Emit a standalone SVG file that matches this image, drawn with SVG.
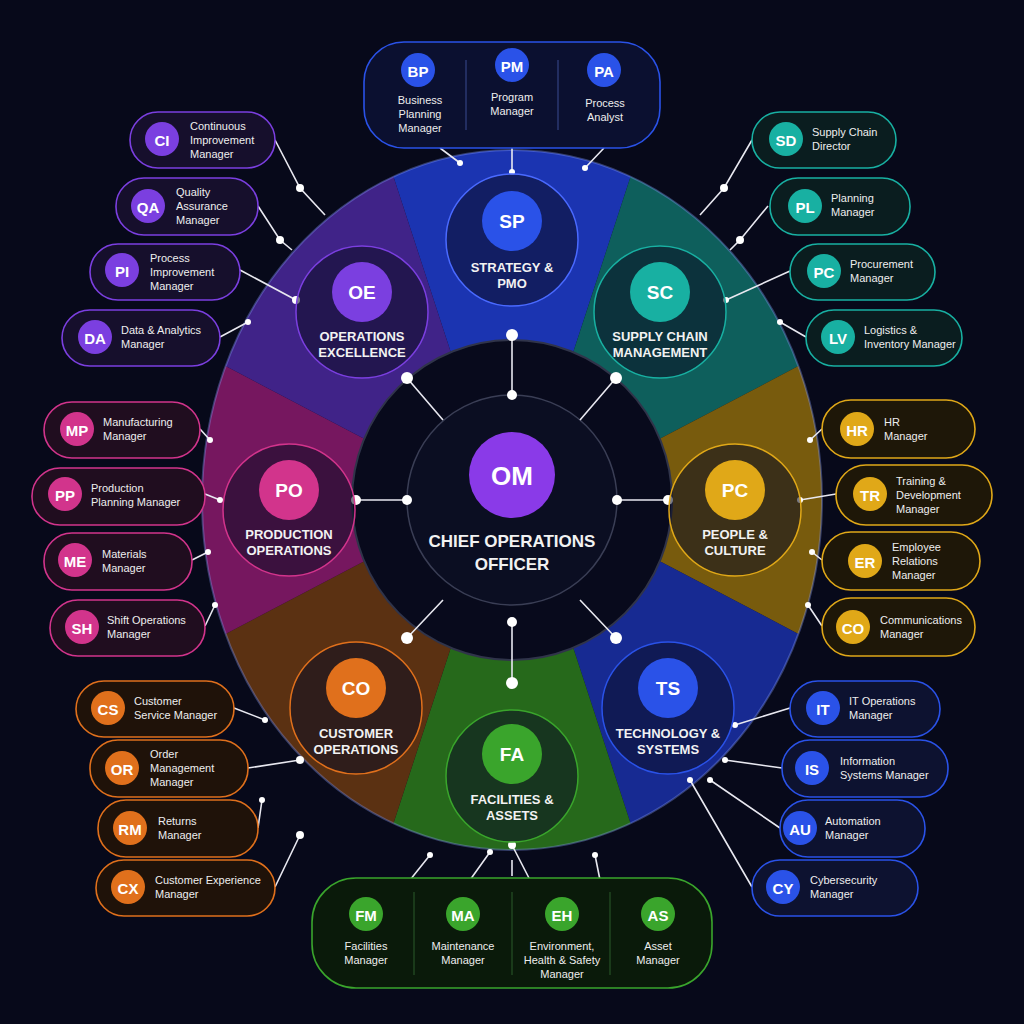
<svg xmlns="http://www.w3.org/2000/svg" width="1024" height="1024" viewBox="0 0 1024 1024">
<defs>
<style>
text{font-family:"Liberation Sans",Arial,sans-serif;fill:#fff}
.bd{font-weight:bold;font-size:19px;text-anchor:middle}
.bb{font-weight:bold;font-size:26px;text-anchor:middle}
.sl{font-size:13px;font-weight:bold;text-anchor:middle;fill:#f2f2f2}
.cl{font-size:11px;fill:#eee}
.cc{font-size:11px;fill:#eee;text-anchor:middle}
.ln{stroke:#e8e8f0;stroke-width:1.6;fill:none}
.dt{fill:#fff}
.card{stroke-width:1.6}
.p{fill:#7b3fe0}.m{fill:#d2348c}.o{fill:#e0701c}.t{fill:#18b0a2}.g{fill:#e0a818}.b{fill:#2a52e8}.gr{fill:#3aa52c}
.cp{fill:#160f2c;stroke:#7b3fe0}.cm{fill:#200d1f;stroke:#d2348c}.co{fill:#1f1209;stroke:#e0701c}.ct{fill:#0a1d1f;stroke:#18b0a2}.cg{fill:#1e1708;stroke:#e0a818}.cb{fill:#0d1230;stroke:#2a52e8}.cgr{fill:#0c1d0c;stroke:#3aa52c}
.sc{fill:#0b0d22;fill-opacity:0.55;stroke-width:1.5}
</style>
</defs>
<rect width="1024" height="1024" fill="#07091a"/>
<g id="ring">
<path d="M393.4,176.6 A310 350 0 0 1 630.6,176.6 L573.2,352.2 A160 160 0 0 0 450.8,352.2Z" fill="#1f3ccc" opacity="0.85"/>
<path d="M630.6,176.6 A310 350 0 0 1 798.4,366.1 L659.8,438.8 A160 160 0 0 0 573.2,352.2Z" fill="#0f6e68" opacity="0.85"/>
<path d="M798.4,366.1 A310 350 0 0 1 798.4,633.9 L659.8,561.2 A160 160 0 0 0 659.8,438.8Z" fill="#8c6a0c" opacity="0.85"/>
<path d="M798.4,633.9 A310 350 0 0 1 630.6,823.4 L573.2,647.8 A160 160 0 0 0 659.8,561.2Z" fill="#1a30a8" opacity="0.85"/>
<path d="M630.6,823.4 A310 350 0 0 1 393.4,823.4 L450.8,647.8 A160 160 0 0 0 573.2,647.8Z" fill="#2c7a1c" opacity="0.85"/>
<path d="M393.4,823.4 A310 350 0 0 1 225.6,633.9 L364.2,561.2 A160 160 0 0 0 450.8,647.8Z" fill="#6a3812" opacity="0.85"/>
<path d="M225.6,633.9 A310 350 0 0 1 225.6,366.1 L364.2,438.8 A160 160 0 0 0 364.2,561.2Z" fill="#8a1a6c" opacity="0.85"/>
<path d="M225.6,366.1 A310 350 0 0 1 393.4,176.6 L450.8,352.2 A160 160 0 0 0 364.2,438.8Z" fill="#4a289c" opacity="0.85"/>
<ellipse cx="512" cy="500" rx="310" ry="350" fill="none" stroke="#8aa0ff" stroke-opacity="0.35" stroke-width="2"/>
<circle cx="512" cy="500" r="160" fill="#080a1c" stroke="#30344a" stroke-width="2"/>
<circle cx="512" cy="500" r="105" fill="#0b0e22" stroke="#3a3e55" stroke-width="1.5"/>
</g>
<g id="connectors">
<path class="ln" d="M512,335V395M617,500H668M356,500H407M512,622V683M407,378L443,420M616,378L580,420M407,638L443,600M616,638L580,600"/>
<g class="dt"><circle cx="512" cy="335" r="6"/><circle cx="512" cy="395" r="5"/><circle cx="668" cy="500" r="5"/><circle cx="617" cy="500" r="5"/><circle cx="356" cy="500" r="5"/><circle cx="407" cy="500" r="5"/><circle cx="512" cy="683" r="6"/><circle cx="512" cy="622" r="5"/><circle cx="407" cy="378" r="6"/><circle cx="616" cy="378" r="6"/><circle cx="407" cy="638" r="6"/><circle cx="616" cy="638" r="6"/></g>
<path class="ln" d="M275,140L300,188L325,215M258,206L280,240L292,250M240,270L296,300M220,337L248,322M200,429L210,440M205,494L220,500M192,560L208,552M205,626L215,605M234,708L265,720M248,768L300,760M258,828L262,800M275,887L300,835M752,140L724,188L700,215M768,206L740,240L730,250M790,271L726,300M806,337L780,322M822,429L810,440M836,494L800,500M822,560L812,552M822,626L808,605M790,708L735,725M782,768L725,760M780,828L710,780M752,887L690,780M440,148L460,163M512,148V172M604,148L585,168M410,880L430,855M470,880L490,852M512,860V876M530,880L512,845M600,880L595,855"/>
<g class="dt"><circle cx="300" cy="188" r="4"/><circle cx="280" cy="240" r="4"/><circle cx="296" cy="300" r="4"/><circle cx="248" cy="322" r="3"/><circle cx="210" cy="440" r="3"/><circle cx="220" cy="500" r="3"/><circle cx="208" cy="552" r="3"/><circle cx="215" cy="605" r="3"/><circle cx="265" cy="720" r="3"/><circle cx="300" cy="760" r="4"/><circle cx="262" cy="800" r="3"/><circle cx="300" cy="835" r="4"/><circle cx="724" cy="188" r="4"/><circle cx="740" cy="240" r="4"/><circle cx="726" cy="300" r="3"/><circle cx="780" cy="322" r="3"/><circle cx="810" cy="440" r="3"/><circle cx="800" cy="500" r="3"/><circle cx="812" cy="552" r="3"/><circle cx="808" cy="605" r="3"/><circle cx="735" cy="725" r="3"/><circle cx="725" cy="760" r="3"/><circle cx="710" cy="780" r="3"/><circle cx="690" cy="780" r="3"/><circle cx="460" cy="163" r="3"/><circle cx="512" cy="172" r="3"/><circle cx="585" cy="168" r="3"/><circle cx="430" cy="855" r="3"/><circle cx="490" cy="852" r="3"/><circle cx="512" cy="845" r="4"/><circle cx="595" cy="855" r="3"/></g>
</g>
<g id="om"><circle cx="512" cy="475" r="43" fill="#8a3ae8"/><text class="bb" x="512" y="485">OM</text><text class="sl" x="512" y="547" style="font-size:17px">CHIEF OPERATIONS</text><text class="sl" x="512" y="570" style="font-size:17px">OFFICER</text></g>
<g id="sp"><circle class="sc" cx="512" cy="240" r="66" stroke="#4a6aff"/><circle class="b" cx="512" cy="221" r="30"/><text class="bd" x="512" y="228">SP</text><text class="sl" x="512" y="272">STRATEGY &amp;</text><text class="sl" x="512" y="288">PMO</text></g>
<g id="sc"><circle class="sc" cx="660" cy="312" r="66" stroke="#18b0a2"/><circle class="t" cx="660" cy="292" r="30"/><text class="bd" x="660" y="299">SC</text><text class="sl" x="660" y="341">SUPPLY CHAIN</text><text class="sl" x="660" y="357">MANAGEMENT</text></g>
<g id="pc"><circle class="sc" cx="735" cy="510" r="66" stroke="#e0a818"/><circle class="g" cx="735" cy="490" r="30"/><text class="bd" x="735" y="497">PC</text><text class="sl" x="735" y="539">PEOPLE &amp;</text><text class="sl" x="735" y="555">CULTURE</text></g>
<g id="ts"><circle class="sc" cx="668" cy="708" r="66" stroke="#2a52e8"/><circle class="b" cx="668" cy="688" r="30"/><text class="bd" x="668" y="695">TS</text><text class="sl" x="668" y="738">TECHNOLOGY &amp;</text><text class="sl" x="668" y="754">SYSTEMS</text></g>
<g id="fa"><circle class="sc" cx="512" cy="776" r="66" stroke="#3aa52c"/><circle class="gr" cx="512" cy="754" r="30"/><text class="bd" x="512" y="761">FA</text><text class="sl" x="512" y="804">FACILITIES &amp;</text><text class="sl" x="512" y="820">ASSETS</text></g>
<g id="co"><circle class="sc" cx="356" cy="708" r="66" stroke="#e0701c"/><circle class="o" cx="356" cy="688" r="30"/><text class="bd" x="356" y="695">CO</text><text class="sl" x="356" y="738">CUSTOMER</text><text class="sl" x="356" y="754">OPERATIONS</text></g>
<g id="po"><circle class="sc" cx="289" cy="510" r="66" stroke="#d2348c"/><circle class="m" cx="289" cy="490" r="30"/><text class="bd" x="289" y="497">PO</text><text class="sl" x="289" y="539">PRODUCTION</text><text class="sl" x="289" y="555">OPERATIONS</text></g>
<g id="oe"><circle class="sc" cx="362" cy="312" r="66" stroke="#7b3fe0"/><circle class="p" cx="362" cy="292" r="30"/><text class="bd" x="362" y="299">OE</text><text class="sl" x="362" y="341">OPERATIONS</text><text class="sl" x="362" y="357">EXCELLENCE</text></g>

<g id="top"><rect x="364" y="42" width="296" height="106" rx="40" fill="#0b1030" stroke="#2a52e8" stroke-width="1.6"/>
<path d="M466,60V130M558,60V130" stroke="#3a4a90"/>
<circle class="b" cx="418" cy="70" r="17"/><text class="bd" x="418" y="77" style="font-size:15px">BP</text><text class="cc" x="420" y="104">Business</text><text class="cc" x="420" y="118">Planning</text><text class="cc" x="420" y="132">Manager</text>
<circle class="b" cx="512" cy="65" r="17"/><text class="bd" x="512" y="72" style="font-size:15px">PM</text><text class="cc" x="512" y="101">Program</text><text class="cc" x="512" y="115">Manager</text>
<circle class="b" cx="604" cy="70" r="17"/><text class="bd" x="604" y="77" style="font-size:15px">PA</text><text class="cc" x="605" y="107">Process</text><text class="cc" x="605" y="121">Analyst</text></g>

<g id="bottom"><rect x="312" y="878" width="400" height="110" rx="44" fill="#0a1a0a" stroke="#3aa52c" stroke-width="1.6"/>
<path d="M414,892V975M512,892V975M610,892V975" stroke="#2a5a2a"/>
<circle class="gr" cx="366" cy="914" r="17"/><text class="bd" x="366" y="921" style="font-size:15px">FM</text><text class="cc" x="366" y="950">Facilities</text><text class="cc" x="366" y="964">Manager</text>
<circle class="gr" cx="463" cy="914" r="17"/><text class="bd" x="463" y="921" style="font-size:15px">MA</text><text class="cc" x="463" y="950">Maintenance</text><text class="cc" x="463" y="964">Manager</text>
<circle class="gr" cx="562" cy="914" r="17"/><text class="bd" x="562" y="921" style="font-size:15px">EH</text><text class="cc" x="562" y="950">Environment,</text><text class="cc" x="562" y="964">Health &amp; Safety</text><text class="cc" x="562" y="978">Manager</text>
<circle class="gr" cx="658" cy="914" r="17"/><text class="bd" x="658" y="921" style="font-size:15px">AS</text><text class="cc" x="658" y="950">Asset</text><text class="cc" x="658" y="964">Manager</text></g>

<g id="ci"><rect class="card cp" x="130" y="112" width="145" height="56" rx="28"/><circle class="p" cx="162" cy="139" r="17"/><text class="bd" x="162" y="146" style="font-size:15px">CI</text><text class="cl" x="190" y="130">Continuous</text><text class="cl" x="190" y="144">Improvement</text><text class="cl" x="190" y="158">Manager</text></g>
<g id="qa"><rect class="card cp" x="116" y="178" width="142" height="57" rx="28"/><circle class="p" cx="148" cy="206" r="17"/><text class="bd" x="148" y="213" style="font-size:15px">QA</text><text class="cl" x="176" y="196">Quality</text><text class="cl" x="176" y="210">Assurance</text><text class="cl" x="176" y="224">Manager</text></g>
<g id="pi"><rect class="card cp" x="90" y="244" width="150" height="56" rx="28"/><circle class="p" cx="122" cy="270" r="17"/><text class="bd" x="122" y="277" style="font-size:15px">PI</text><text class="cl" x="150" y="262">Process</text><text class="cl" x="150" y="276">Improvement</text><text class="cl" x="150" y="290">Manager</text></g>
<g id="da"><rect class="card cp" x="62" y="310" width="158" height="56" rx="28"/><circle class="p" cx="95" cy="337" r="17"/><text class="bd" x="95" y="344" style="font-size:15px">DA</text><text class="cl" x="121" y="334">Data &amp; Analytics</text><text class="cl" x="121" y="348">Manager</text></g>

<g id="mp"><rect class="card cm" x="44" y="402" width="156" height="56" rx="28"/><circle class="m" cx="77" cy="429" r="17"/><text class="bd" x="77" y="436" style="font-size:15px">MP</text><text class="cl" x="103" y="426">Manufacturing</text><text class="cl" x="103" y="440">Manager</text></g>
<g id="pp"><rect class="card cm" x="32" y="468" width="173" height="57" rx="28"/><circle class="m" cx="65" cy="494" r="17"/><text class="bd" x="65" y="501" style="font-size:15px">PP</text><text class="cl" x="91" y="492">Production</text><text class="cl" x="91" y="506">Planning Manager</text></g>
<g id="me"><rect class="card cm" x="44" y="533" width="148" height="57" rx="28"/><circle class="m" cx="75" cy="560" r="17"/><text class="bd" x="75" y="567" style="font-size:15px">ME</text><text class="cl" x="102" y="558">Materials</text><text class="cl" x="102" y="572">Manager</text></g>
<g id="sh"><rect class="card cm" x="50" y="600" width="155" height="56" rx="28"/><circle class="m" cx="82" cy="627" r="17"/><text class="bd" x="82" y="634" style="font-size:15px">SH</text><text class="cl" x="107" y="624">Shift Operations</text><text class="cl" x="107" y="638">Manager</text></g>

<g id="cs"><rect class="card co" x="76" y="681" width="158" height="56" rx="28"/><circle class="o" cx="108" cy="708" r="17"/><text class="bd" x="108" y="715" style="font-size:15px">CS</text><text class="cl" x="134" y="705">Customer</text><text class="cl" x="134" y="719">Service Manager</text></g>
<g id="or"><rect class="card co" x="90" y="740" width="158" height="57" rx="28"/><circle class="o" cx="122" cy="768" r="17"/><text class="bd" x="122" y="775" style="font-size:15px">OR</text><text class="cl" x="150" y="758">Order</text><text class="cl" x="150" y="772">Management</text><text class="cl" x="150" y="786">Manager</text></g>
<g id="rm"><rect class="card co" x="98" y="800" width="160" height="57" rx="28"/><circle class="o" cx="130" cy="828" r="17"/><text class="bd" x="130" y="835" style="font-size:15px">RM</text><text class="cl" x="158" y="825">Returns</text><text class="cl" x="158" y="839">Manager</text></g>
<g id="cx"><rect class="card co" x="96" y="860" width="179" height="56" rx="28"/><circle class="o" cx="128" cy="887" r="17"/><text class="bd" x="128" y="894" style="font-size:15px">CX</text><text class="cl" x="155" y="884">Customer Experience</text><text class="cl" x="155" y="898">Manager</text></g>

<g id="sd"><rect class="card ct" x="752" y="112" width="144" height="56" rx="28"/><circle class="t" cx="786" cy="139" r="17"/><text class="bd" x="786" y="146" style="font-size:15px">SD</text><text class="cl" x="812" y="136">Supply Chain</text><text class="cl" x="812" y="150">Director</text></g>
<g id="pl"><rect class="card ct" x="770" y="178" width="140" height="57" rx="28"/><circle class="t" cx="805" cy="206" r="17"/><text class="bd" x="805" y="213" style="font-size:15px">PL</text><text class="cl" x="831" y="202">Planning</text><text class="cl" x="831" y="216">Manager</text></g>
<g id="pcm"><rect class="card ct" x="790" y="244" width="145" height="56" rx="28"/><circle class="t" cx="824" cy="271" r="17"/><text class="bd" x="824" y="278" style="font-size:15px">PC</text><text class="cl" x="850" y="268">Procurement</text><text class="cl" x="850" y="282">Manager</text></g>
<g id="lv"><rect class="card ct" x="806" y="310" width="156" height="56" rx="28"/><circle class="t" cx="838" cy="337" r="17"/><text class="bd" x="838" y="344" style="font-size:15px">LV</text><text class="cl" x="864" y="334">Logistics &amp;</text><text class="cl" x="864" y="348">Inventory Manager</text></g>

<g id="hr"><rect class="card cg" x="822" y="400" width="153" height="58" rx="29"/><circle class="g" cx="857" cy="429" r="17"/><text class="bd" x="857" y="436" style="font-size:15px">HR</text><text class="cl" x="884" y="426">HR</text><text class="cl" x="884" y="440">Manager</text></g>
<g id="tr"><rect class="card cg" x="836" y="465" width="156" height="60" rx="30"/><circle class="g" cx="870" cy="494" r="17"/><text class="bd" x="870" y="501" style="font-size:15px">TR</text><text class="cl" x="896" y="485">Training &amp;</text><text class="cl" x="896" y="499">Development</text><text class="cl" x="896" y="513">Manager</text></g>
<g id="er"><rect class="card cg" x="822" y="532" width="158" height="58" rx="29"/><circle class="g" cx="865" cy="561" r="17"/><text class="bd" x="865" y="568" style="font-size:15px">ER</text><text class="cl" x="892" y="551">Employee</text><text class="cl" x="892" y="565">Relations</text><text class="cl" x="892" y="579">Manager</text></g>
<g id="cm"><rect class="card cg" x="822" y="598" width="153" height="58" rx="29"/><circle class="g" cx="853" cy="627" r="17"/><text class="bd" x="853" y="634" style="font-size:15px">CO</text><text class="cl" x="880" y="624">Communications</text><text class="cl" x="880" y="638">Manager</text></g>

<g id="it"><rect class="card cb" x="790" y="681" width="150" height="56" rx="28"/><circle class="b" cx="823" cy="708" r="17"/><text class="bd" x="823" y="715" style="font-size:15px">IT</text><text class="cl" x="849" y="705">IT Operations</text><text class="cl" x="849" y="719">Manager</text></g>
<g id="is"><rect class="card cb" x="782" y="740" width="166" height="57" rx="28"/><circle class="b" cx="812" cy="768" r="17"/><text class="bd" x="812" y="775" style="font-size:15px">IS</text><text class="cl" x="840" y="765">Information</text><text class="cl" x="840" y="779">Systems Manager</text></g>
<g id="au"><rect class="card cb" x="780" y="800" width="145" height="57" rx="28"/><circle class="b" cx="800" cy="828" r="17"/><text class="bd" x="800" y="835" style="font-size:15px">AU</text><text class="cl" x="825" y="825">Automation</text><text class="cl" x="825" y="839">Manager</text></g>
<g id="cy"><rect class="card cb" x="752" y="860" width="166" height="56" rx="28"/><circle class="b" cx="783" cy="887" r="17"/><text class="bd" x="783" y="894" style="font-size:15px">CY</text><text class="cl" x="810" y="884">Cybersecurity</text><text class="cl" x="810" y="898">Manager</text></g>
</svg>
